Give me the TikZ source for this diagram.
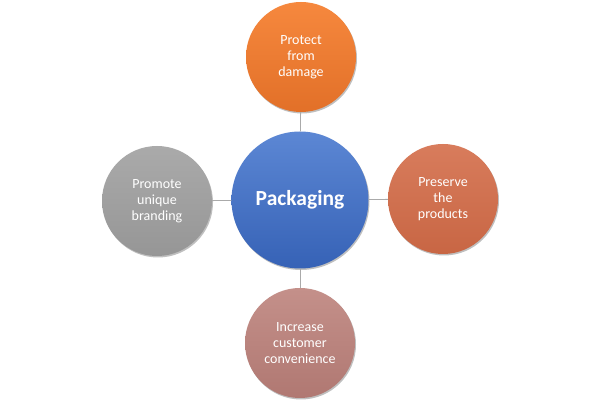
\documentclass[tikz,border=0pt]{standalone}
\usepackage{fontspec}
\setmainfont{Carlito}
\usetikzlibrary{shadows}
\definecolor{linegray}{RGB}{170,170,170}
\tikzset{
  bubble/.style={circle, draw=none, text=white, align=center, font=\fontsize{14}{16}\selectfont,
    minimum size=110pt, inner sep=0pt, shading=axis, shading angle=0,
    drop shadow={shadow xshift=1pt, shadow yshift=-1.5pt, opacity=0.25, fill=black}},
  conn/.style={draw=linegray, line width=0.8pt}
}
\begin{document}
\begin{tikzpicture}[x=1pt,y=1pt]
\useasboundingbox[fill=white] (0,0) rectangle (600,404);
\node[bubble, minimum size=137pt, top color={rgb,255:red,92;green,135;blue,212}, bottom color={rgb,255:red,54;green,98;blue,182},
  font=\fontsize{21.5}{24}\selectfont\bfseries] (c) at (300,204) {Packaging};
\node[bubble, top color={rgb,255:red,246;green,136;blue,62}, bottom color={rgb,255:red,226;green,112;blue,40}] (t) at (301,347) {Protect\\from\\damage};
\node[bubble, top color={rgb,255:red,216;green,124;blue,92}, bottom color={rgb,255:red,200;green,102;blue,68}] (r) at (443,205) {Preserve\\the\\products};
\node[bubble, top color={rgb,255:red,196;green,144;blue,138}, bottom color={rgb,255:red,176;green,120;blue,114}] (b) at (300,61) {Increase\\customer\\convenience};
\node[bubble, top color={rgb,255:red,170;green,170;blue,170}, bottom color={rgb,255:red,150;green,150;blue,150}] (l) at (157,203) {Promote\\unique\\branding};
\draw[conn] (t) -- (c);
\draw[conn] (c) -- (r);
\draw[conn] (c) -- (b);
\draw[conn] (l) -- (c);
\end{tikzpicture}
\end{document}
